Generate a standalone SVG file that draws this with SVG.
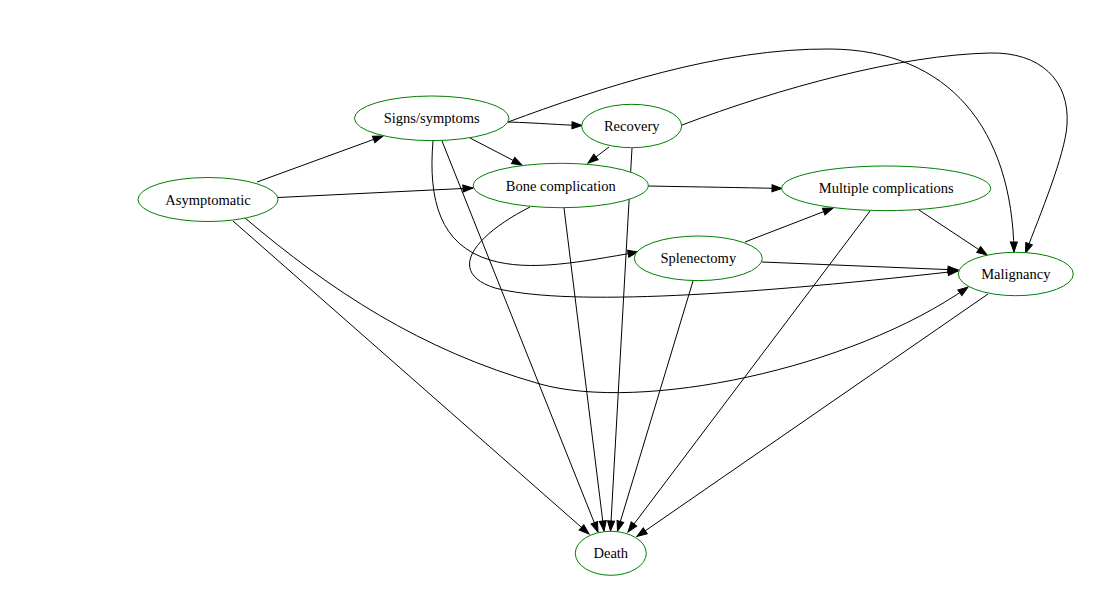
<svg xmlns="http://www.w3.org/2000/svg" width="1098" height="600" viewBox="0 0 1098 600">
<style>
.node ellipse{fill:#ffffff;stroke:#008000;stroke-width:1}
.node text{font-family:"Liberation Serif","Times New Roman",serif;font-size:14.5px;fill:#000000;text-anchor:middle}
.edge{fill:none;stroke:#000000;stroke-width:1;marker-end:url(#ah)}
</style>
<defs>
<marker id="ah" markerUnits="userSpaceOnUse" markerWidth="10" markerHeight="7" refX="10" refY="3.5" orient="auto" overflow="visible">
<path d="M0,0 L10,3.5 L0,7 z" fill="#000000" stroke="#000000" stroke-width="1"/>
</marker>
</defs>
<rect width="1098" height="600" fill="#ffffff"/>
<g id="connectors">
<path class="edge" d="M257,182 L383,136"/>
<path class="edge" d="M278,197.5 L473,188"/>
<path class="edge" d="M233,221 L589,534"/>
<path class="edge" d="M245,218 C330,290 420,350 540,384 C640,412 850,370 968,287"/>
<path class="edge" d="M508,122 C540,123 560,125 582,125.5"/>
<path class="edge" d="M470,138 L522,165"/>
<path class="edge" d="M442,141 L598,532"/>
<path class="edge" d="M433,141 C428,200 440,245 490,260 C530,272 580,262 638,252"/>
<path class="edge" d="M508,122 C600,88 720,48 830,49 C950,50 1012,130 1014,252"/>
<path class="edge" d="M609,147 L588,163"/>
<path class="edge" d="M632,148 L610.5,531"/>
<path class="edge" d="M682,125 C780,88 900,55 990,53 C1040,52 1070,80 1067,125 C1065,155 1040,215 1025.5,253"/>
<path class="edge" d="M648,186 C700,187 740,187.5 782,188.5"/>
<path class="edge" d="M564,208 L604,531"/>
<path class="edge" d="M530,207 C475,235 445,272 495,288 C560,305 720,298 958,271"/>
<path class="edge" d="M745,242 L833,208"/>
<path class="edge" d="M762,262 L958,270"/>
<path class="edge" d="M693,281 L617.5,531"/>
<path class="edge" d="M919,210 L987,255"/>
<path class="edge" d="M870,211 L628,532"/>
<path class="edge" d="M988,294 L637,536.5"/>
</g>
<g id="node-asymptomatic" class="node"><ellipse cx="208" cy="199.5" rx="70" ry="22"/><text x="208" y="204.5">Asymptomatic</text></g>
<g id="node-signs" class="node"><ellipse cx="431.7" cy="118.3" rx="77.3" ry="22.3"/><text x="431.7" y="123.3">Signs/symptoms</text></g>
<g id="node-recovery" class="node"><ellipse cx="631.7" cy="126" rx="50" ry="21.7"/><text x="631.7" y="131">Recovery</text></g>
<g id="node-bone" class="node"><ellipse cx="560.8" cy="185.5" rx="87.5" ry="22.2"/><text x="560.8" y="190.5">Bone complication</text></g>
<g id="node-splenectomy" class="node"><ellipse cx="698.3" cy="258.3" rx="64" ry="22.3"/><text x="698.3" y="263.3">Splenectomy</text></g>
<g id="node-multiple" class="node"><ellipse cx="886.2" cy="188.3" rx="104.5" ry="22.3"/><text x="886.2" y="193.3">Multiple complications</text></g>
<g id="node-malignancy" class="node"><ellipse cx="1015.8" cy="274" rx="57.5" ry="21.7"/><text x="1015.8" y="279">Malignancy</text></g>
<g id="node-death" class="node"><ellipse cx="610.8" cy="553.3" rx="35.5" ry="22"/><text x="610.8" y="558.3">Death</text></g>
</svg>
